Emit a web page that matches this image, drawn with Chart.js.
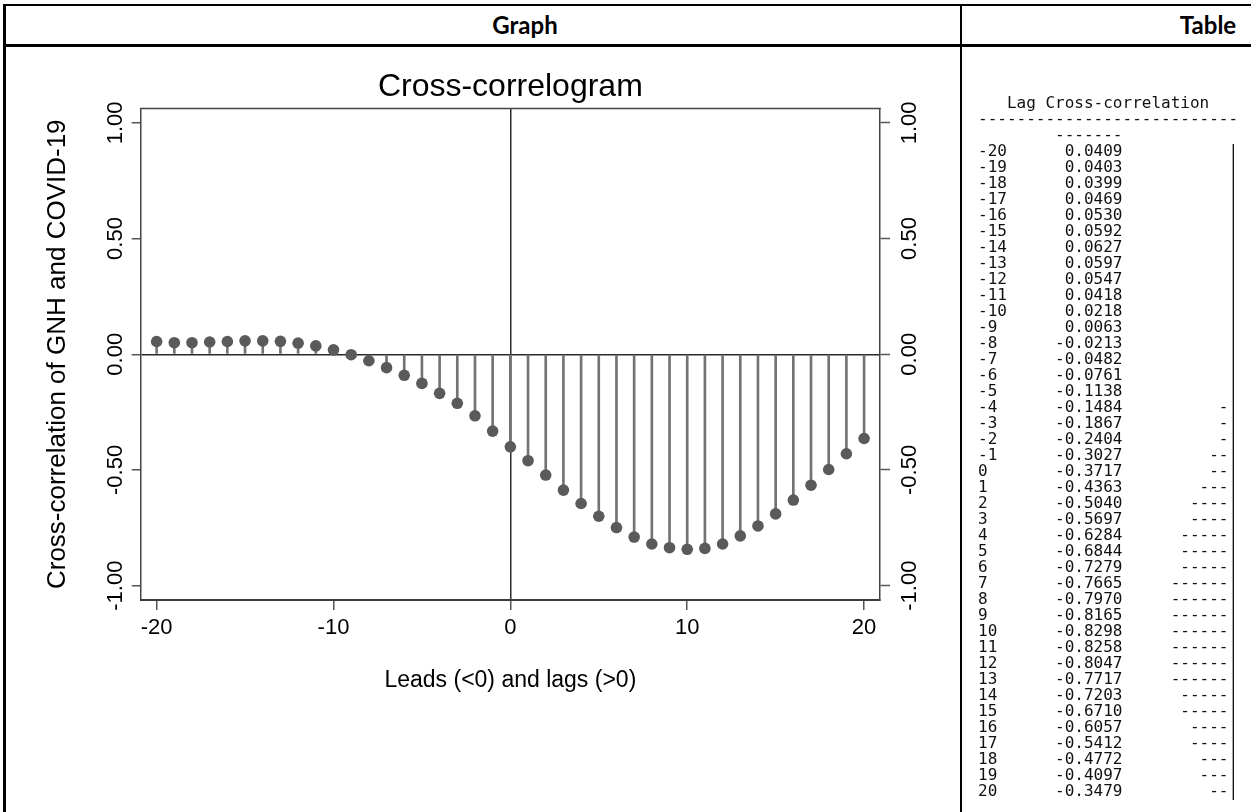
<!DOCTYPE html>
<html><head><meta charset="utf-8">
<script src="https://cdn.jsdelivr.net/npm/chart.js@4.4.0/dist/chart.umd.min.js"></script>
<style>
html,body{margin:0;padding:0;background:#fff;}
body{width:1251px;height:812px;overflow:hidden;position:relative;}
.line{position:absolute;background:#000;}
.hdr{position:absolute;font-family:Lato,"Noto Sans",sans-serif;font-weight:700;font-size:24px;color:#000;top:10px;line-height:30px;transform:translateX(-50%);white-space:nowrap;}
#chartBox{position:absolute;left:7px;top:47px;width:953px;height:765px;}
#tbl{position:absolute;left:978px;top:95px;margin:0;font-family:"DejaVu Sans Mono",monospace;font-size:16px;line-height:16px;color:#111;white-space:pre;opacity:0.999;will-change:transform;}
</style></head>
<body>
<div class="line" style="left:3px;top:4px;width:1248px;height:2px"></div>
<div class="line" style="left:3px;top:44px;width:1248px;height:3px"></div>
<div class="line" style="left:3px;top:4px;width:3px;height:808px"></div>
<div class="line" style="left:960px;top:4px;width:2px;height:808px"></div>
<div class="hdr" style="left:525px">Graph</div>
<div class="hdr" style="left:1208px">Table</div>
<div id="chartBox"><canvas id="c"></canvas></div>
<pre id="tbl"></pre>
<script>
// ---- data ----
const lags = [-20,-19,-18,-17,-16,-15,-14,-13,-12,-11,-10,-9,-8,-7,-6,-5,-4,-3,-2,-1,0,1,2,3,4,5,6,7,8,9,10,11,12,13,14,15,16,17,18,19,20];
// values as plotted in the graph
const graphCorr = [0.055,0.050,0.050,0.053,0.055,0.058,0.058,0.056,0.048,0.036,0.019,-0.002,-0.028,-0.058,-0.091,-0.126,-0.169,-0.212,-0.266,-0.332,-0.400,-0.460,-0.522,-0.587,-0.645,-0.700,-0.749,-0.790,-0.820,-0.836,-0.843,-0.839,-0.820,-0.785,-0.742,-0.690,-0.630,-0.566,-0.498,-0.430,-0.364];
// values printed in the table
const tableCorr = ['0.0409','0.0403','0.0399','0.0469','0.0530','0.0592','0.0627','0.0597','0.0547','0.0418','0.0218','0.0063','-0.0213','-0.0482','-0.0761','-0.1138','-0.1484','-0.1867','-0.2404','-0.3027','-0.3717','-0.4363','-0.5040','-0.5697','-0.6284','-0.6844','-0.7279','-0.7665','-0.7970','-0.8165','-0.8298','-0.8258','-0.8047','-0.7717','-0.7203','-0.6710','-0.6057','-0.5412','-0.4772','-0.4097','-0.3479'];
const tableBarDashes = [0,0,0,0,0,0,0,0,0,0,0,0,0,0,0,0,1,1,1,2,2,3,4,4,5,5,5,6,6,6,6,6,6,6,5,5,4,4,3,3,2];
const yTickValues = [-1,-0.5,0,0.5,1];
const yTickLabels = ['-1.00','-0.50','0.00','0.50','1.00'];
const xTickValues = [-20,-10,0,10,20];

// ---- table text ----
const tLines = ['   Lag Cross-correlation', '-'.repeat(27), ' '.repeat(8) + '-'.repeat(7)];
lags.forEach((l, i) => {
  const ls = String(l), vs = tableCorr[i], n = tableBarDashes[i];
  tLines.push(ls + ' '.repeat(15 - ls.length - vs.length) + vs + ' '.repeat(11 - n) + '-'.repeat(n) + '|');
});
document.getElementById('tbl').textContent = tLines.join('\n');

// ---- chart ----
const FONT = '"Liberation Sans", Arial, sans-serif';
Chart.defaults.font.family = FONT;
const pts = lags.map((x, i) => ({x: x, y: graphCorr[i]}));
const zeroColor = c => (c.tick && c.tick.value === 0) ? '#2a2a2a' : 'rgba(0,0,0,0)';

const frameAndLabels = {
  id: 'frameAndLabels',
  afterDraw(chart) {
    const {ctx, chartArea, scales} = chart;
    ctx.save();
    ctx.strokeStyle = '#444'; ctx.lineWidth = 1.5;
    ctx.beginPath(); ctx.moveTo(chartArea.left - 0.75, chartArea.top); ctx.lineTo(chartArea.right + 0.75, chartArea.top); ctx.stroke();
    ctx.font = '22px ' + FONT;
    ctx.fillStyle = '#000'; ctx.textAlign = 'center'; ctx.textBaseline = 'middle';
    yTickValues.forEach((v, i) => {
      const py = scales.y.getPixelForValue(v);
      [scales.y.right - 25, scales.y2.left + 29.5].forEach(px => {
        ctx.save(); ctx.translate(px, py); ctx.rotate(-Math.PI / 2);
        ctx.fillText(yTickLabels[i], 0, 0);
        ctx.restore();
      });
    });
    ctx.restore();
  }
};

new Chart(document.getElementById('c'), {
  type: 'scatter',
  data: {
    datasets: [
      {type: 'bar', data: pts, backgroundColor: '#737373', borderWidth: 0, barThickness: 2, order: 2},
      {type: 'scatter', data: pts, backgroundColor: '#5a5a5a', borderWidth: 0, pointRadius: 5.8, pointHoverRadius: 5.8, order: 1}
    ]
  },
  options: {
    responsive: true, maintainAspectRatio: false, animation: false, events: [],
    layout: {padding: {left: 0, right: 0, top: 0, bottom: 117.2}},
    plugins: {
      legend: {display: false}, tooltip: {enabled: false},
      title: {display: true, text: 'Cross-correlogram', fullSize: false, color: '#000',
        font: {family: FONT, size: 32, weight: 'normal'}, padding: {top: 20.7, bottom: 2.4}}
    },
    scales: {
      x: {type: 'linear', position: 'bottom', min: -20.9, max: 20.9, offset: false,
        afterBuildTicks: s => { s.ticks = xTickValues.map(v => ({value: v})); },
        ticks: {padding: 5, color: '#000', font: {size: 22}, maxRotation: 0, autoSkip: false, callback: v => String(v)},
        grid: {offset: false, drawOnChartArea: true, color: zeroColor, lineWidth: 1.5, tickLength: 10, tickColor: '#555', tickWidth: 1.5},
        border: {display: true, color: '#3a3a3a', width: 2},
        title: {display: true, text: 'Leads (<0) and lags (>0)', color: '#000', font: {size: 23}, padding: {top: 25.8, bottom: 0}},
        afterFit: s => { s.height = 94.8; }
      },
      y: {type: 'linear', position: 'left', min: -1.062, max: 1.062, offset: false,
        afterBuildTicks: s => { s.ticks = yTickValues.map(v => ({value: v})); },
        ticks: {display: false},
        grid: {offset: false, drawOnChartArea: true, color: zeroColor, lineWidth: 1.5, tickLength: 9, tickColor: '#555', tickWidth: 1.5},
        border: {display: true, color: '#444', width: 1.5},
        title: {display: true, text: 'Cross-correlation of GNH and COVID-19', color: '#000', font: {size: 26}, padding: {top: 35.4, bottom: 0}},
        afterFit: s => { s.width = 133.7; }
      },
      y2: {type: 'linear', position: 'right', min: -1.062, max: 1.062, offset: false,
        afterBuildTicks: s => { s.ticks = yTickValues.map(v => ({value: v})); },
        ticks: {display: false},
        grid: {offset: false, drawOnChartArea: false, tickLength: 10, color: '#555', tickColor: '#555', tickWidth: 1.5},
        border: {display: true, color: '#444', width: 1.5},
        afterFit: s => { s.width = 80; }
      }
    }
  },
  plugins: [frameAndLabels]
});
</script>
</body></html>
